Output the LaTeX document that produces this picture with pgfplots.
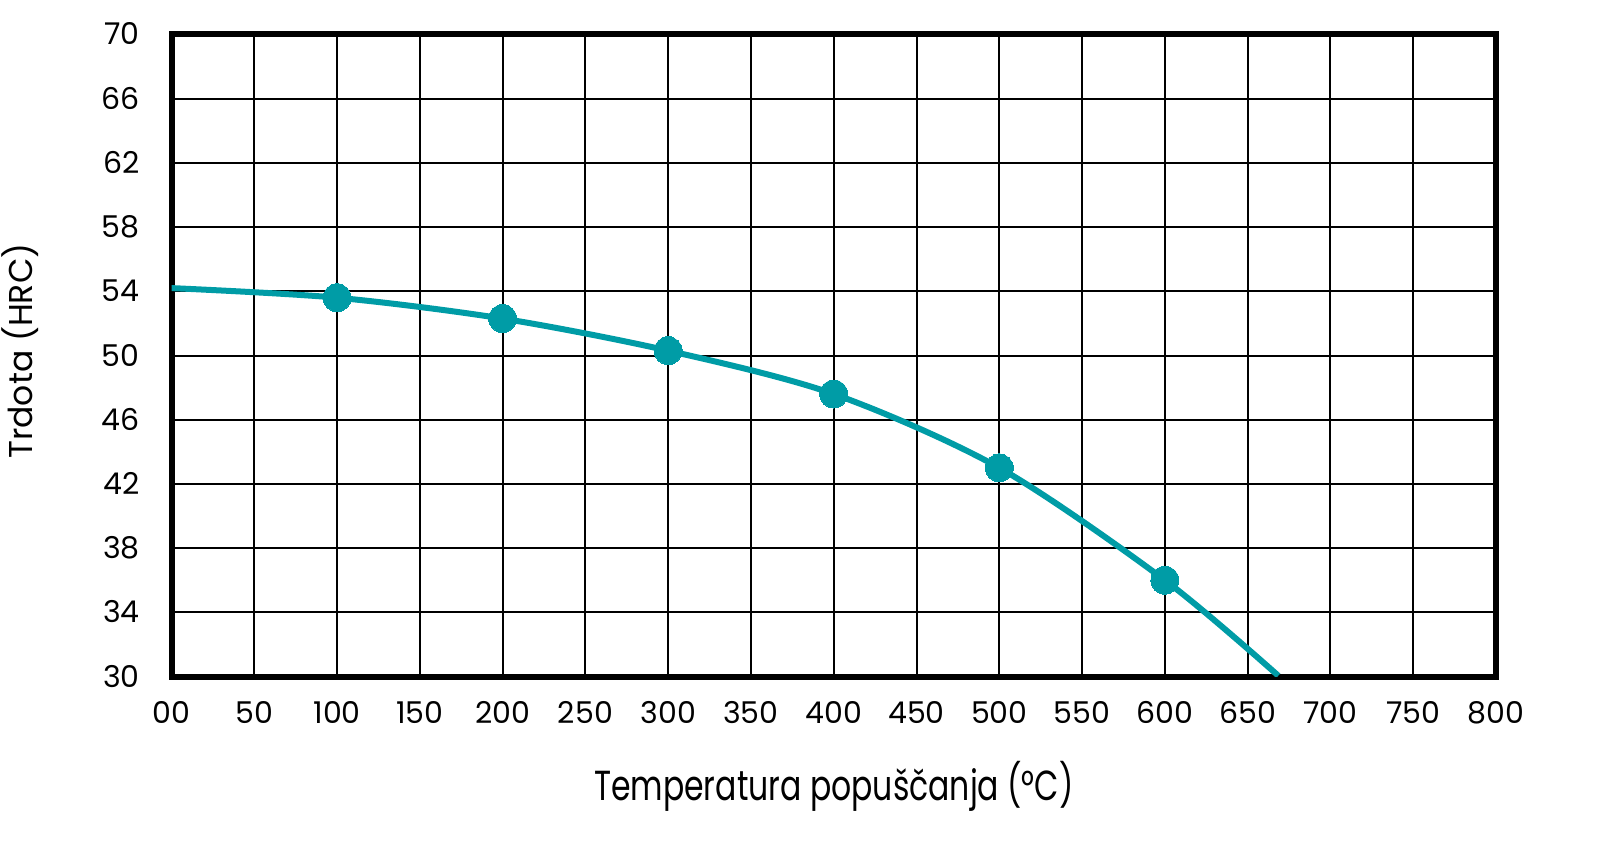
\documentclass[border=0pt]{standalone}
\usepackage{pgfplots}
\pgfplotsset{compat=1.18}
\usepackage{fontspec}
\setmainfont{Poppins}
\newfontfamily\labelfont{Poppins}[FakeStretch=0.75]
\definecolor{teal1}{RGB}{0,156,166}
\begin{document}
\begin{tikzpicture}
\useasboundingbox (0,0) rectangle (810.5pt,431pt);
\begin{axis}[
  at={(85.75pt,92.75pt)}, anchor=south west,
  scale only axis,
  width=662.25pt, height=321pt,
  xmin=0, xmax=800, ymin=30, ymax=70,
  xtick={0,50,...,800},
  xticklabels={00,50,100,150,200,250,300,350,400,450,500,550,600,650,700,750,800},
  ytick={30,34,...,70},
  yticklabels={30,34,38,42,46,50,54,58,62,66,70},
  major tick length=0pt,
  grid=major,
  major grid style={black, line width=1pt},
  axis line style={black, line width=3pt},
  xticklabel style={anchor=base, inner sep=0pt, yshift=-23.4pt, font=\fontsize{15}{18}\selectfont},
  yticklabel style={anchor=base east, inner sep=0pt, xshift=-15.75pt, yshift=-5.25pt, font=\fontsize{15}{18}\selectfont},
  xlabel={\labelfont Temperatura popuščanja (°C)},
  xlabel style={at={(axis description cs:0.5,-0.1939)}, anchor=base, inner sep=0pt, font=\fontsize{21}{25}\selectfont},
  ylabel={Trdota (HRC)},
  ylabel style={at={(axis description cs:-0.1046,0.507)}, anchor=base, inner sep=0pt, font=\fontsize{16.5}{20}\selectfont},
]
\addplot[teal1, line width=3pt, smooth, no markers] coordinates {
  (0,54.2) (100,53.6) (200,52.3) (300,50.3) (400,47.6) (500,43.0) (600,36.0) (668.5,30.05)
};
\addplot[only marks, mark=*, mark size=7pt, mark options={fill=teal1, draw=teal1, line width=0pt}] coordinates {
  (100,53.6) (200,52.3) (300,50.3) (400,47.6) (500,43.0) (600,36.0)
};
\end{axis}
\end{tikzpicture}
\end{document}
